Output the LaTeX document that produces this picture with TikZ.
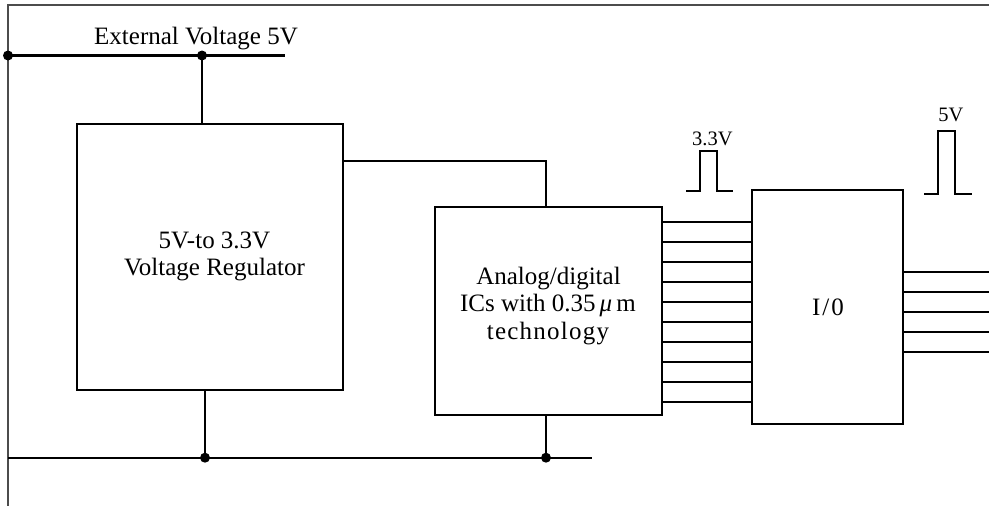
\documentclass[tikz,border=0pt]{standalone}
\usepackage{fontspec}
\setmainfont{Liberation Serif}
\newcommand\spaced[2]{{\addfontfeature{LetterSpace=#1}#2}}
\begin{document}
\begin{tikzpicture}[x=1pt,y=-1pt,
  wire/.style={line width=2.1pt},
  framel/.style={line width=1.4pt, draw=black!70},
  block/.style={draw, line width=2.1pt, inner sep=0pt, fill=none},
  dot/.style={circle, fill=black, inner sep=0pt, minimum size=10pt},
  txt/.style={inner sep=0pt, anchor=base, font=\fontsize{25}{28}\selectfont},
  small/.style={inner sep=0pt, anchor=base, font=\fontsize{20.5}{24}\selectfont}]
\useasboundingbox (0,0) rectangle (989,506);

% frame
\coordinate (fbl) at (8,506);
\coordinate (ftl) at (8,5);
\coordinate (ftr) at (989,5);
\draw[framel] (fbl) -- (ftl) -- (ftr);

% blocks
\node[block, minimum width=266, minimum height=266] (reg) at (210,257) {};
\node[block, minimum width=227, minimum height=208] (ic) at (548.3,311) {};
\node[block, minimum width=151, minimum height=234] (io) at (827.2,307) {};

% texts
\node[txt] (ext) at (196,44.3) {External Voltage 5V};
\node[txt] (reg1) at (214.5,248) {5V-to 3.3V};
\node[txt] (reg2) at (214.5,275.7) {Voltage Regulator};
\node[txt] (ic1) at (548.5,284.3) {Analog/digital};
\node[txt] (ic2) at (548,311.7) {ICs with 0.35\,\textit{μ}\,m};
\node[txt] (ic3) at (548,339) {\spaced{5}{technology}};
\node[txt] (iot) at (828,315) {\spaced{8}{I/0}};
\node[small] (v33) at (712.4,145) {3.3V};
\node[small] (v5) at (951,121.7) {5V};

% top bus
\coordinate (tbR) at (285,55.5);
\node[dot] (d1) at (8,55.5) {};
\node[dot] (d2) at (202,55.5) {};
\draw[wire] (d1.center) -- (tbR);
\draw[wire] (d2.center) -- (d2.center |- reg.north);

% bottom bus
\coordinate (bbL) at (8,457.7);
\coordinate (bbR) at (592,457.7);
\node[dot] (d3) at (205,457.7) {};
\node[dot] (d4) at (546,457.7) {};
\draw[wire] (bbL) -- (bbR);
\draw[wire] (d3.center) -- (d3.center |- reg.south);
\draw[wire] (d4.center) -- (d4.center |- ic.south);

% regulator to IC
\coordinate (k) at (546,161);
\draw[wire] (reg.east |- k) -- (k) -- (k |- ic.north);

% IC to IO lines
\foreach \i in {0,...,9}{
  \pgfmathsetmacro\yy{221.7+20.07*\i}
  \coordinate (r\i) at (0,\yy);
  \draw[wire] (ic.east |- r\i) -- (io.west |- r\i);
}
% IO outputs
\foreach \i in {0,...,4}{
  \pgfmathsetmacro\yy{271.7+20.15*\i}
  \coordinate (o\i) at (989,\yy);
  \draw[wire] (io.east |- o\i) -- (o\i);
}

% pulses
\draw[wire] (686,191) -- (700,191) -- (700,151) -- (716.7,151) -- (716.7,191) -- (732.7,191);
\draw[wire] (924,194.3) -- (938.3,194.3) -- (938.3,131) -- (955,131) -- (955,194.3) -- (971.7,194.3);
\end{tikzpicture}
\end{document}
